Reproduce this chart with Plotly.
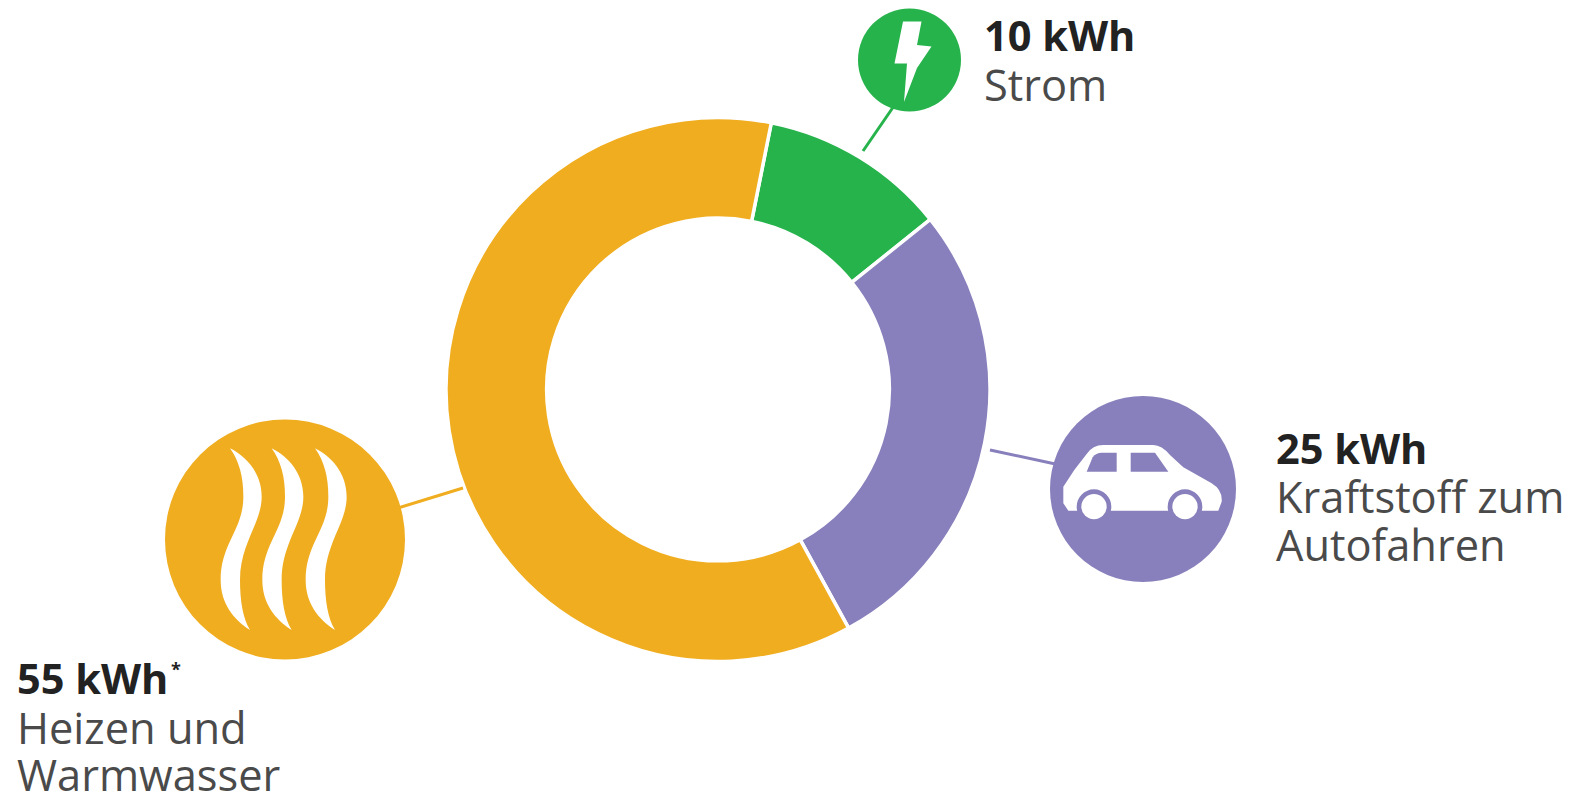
import plotly.graph_objects as go

W, H = 1582, 793

categories = ["Strom", "Kraftstoff zum Autofahren", "Heizen und Warmwasser"]
values_kwh = [10, 25, 55]
value_labels = ["10 kWh", "25 kWh", "55 kWh"]
colors = ["#26B34B", "#8880BC", "#F0AD1F"]

FONT = "Open Sans"
SIZE_BOLD = 41.5
SIZE_REG = 43.4
ARITY = {"M": 2, "L": 2, "Q": 4, "C": 6}


def px(x):
    return x / W


def py(y):
    return 1 - y / H


def path(cmds, ox=0.0, oy=0.0, s=1.0, dx=0.0):
    """cmds: list of (letter, [x, y, ...]) in crop pixels -> paper-space SVG path."""
    out = []
    for letter, pts in cmds:
        n = ARITY[letter]
        for j in range(0, len(pts), n):
            seg = pts[j:j + n]
            coords = []
            for i in range(0, n, 2):
                coords.append(f"{px(ox + (seg[i] + dx) * s):.5f},{py(oy + seg[i + 1] * s):.5f}")
            out.append(letter + " ".join(coords))
    out.append("Z")
    return " ".join(out)


def circle(cx, cy, r, fill):
    return dict(type="circle", xref="paper", yref="paper",
                x0=px(cx - r), x1=px(cx + r), y0=py(cy + r), y1=py(cy - r),
                fillcolor=fill, line_width=0, layer="above")


def leader(x0, y0, x1, y1, col):
    return dict(type="line", xref="paper", yref="paper",
                x0=px(x0), x1=px(x1), y0=py(y0), y1=py(y1),
                line=dict(color=col, width=3), layer="above")


def poly(cmds, fill, **kw):
    return dict(type="path", xref="paper", yref="paper", path=path(cmds, **kw),
                fillcolor=fill, line_width=0, layer="above")


GREEN, PURPLE, ORANGE = colors

shapes = [
    leader(896, 103, 863, 151, GREEN),
    leader(990, 450, 1060, 465, PURPLE),
    leader(385, 512, 463, 488, ORANGE),
    circle(909.5, 60, 51.5, GREEN),
    circle(1143, 489, 93, PURPLE),
    circle(285, 539.5, 120, ORANGE),
]

# lightning bolt
bolt = [("M", [903, 21.5]), ("L", [921.5, 21.5, 917, 45, 931.5, 46.5, 917, 68, 904, 102,
                                   907, 63.5, 894.5, 63.5])]
shapes.append(poly(bolt, "white"))

# car (crop coordinates, 3x zoom anchored at 970,380)
car = dict(ox=970, oy=380, s=1 / 3)
body = [("M", [280, 320]), ("Q", [310, 270, 350, 222]), ("Q", [368, 195, 400, 195]), ("L", [550, 195]),
        ("Q", [575, 195, 600, 225]), ("L", [640, 262, 725, 310]), ("Q", [758, 330, 755, 365]),
        ("L", [745, 392, 295, 392, 280, 370])]
win1 = [("M", [350, 275]), ("L", [368, 232]), ("Q", [378, 218, 395, 218]), ("L", [440, 218, 440, 275])]
win2 = [("M", [482, 218]), ("L", [555, 218, 595, 275, 482, 275])]
shapes.append(poly(body, "white", **car))
shapes.append(poly(win1, PURPLE, **car))
shapes.append(poly(win2, PURPLE, **car))
for wx in (372, 645):
    shapes.append(circle(970 + wx / 3, 380 + 380 / 3, 52 / 3, PURPLE))
    shapes.append(circle(970 + wx / 3, 380 + 380 / 3, 38 / 3, "white"))

# heat waves (crop coordinates, 3x zoom anchored at 150,410)
wave = [("M", [240, 115]), ("C", [290, 140, 335, 190, 335, 260]),
        ("C", [335, 340, 270, 400, 270, 510]), ("C", [270, 570, 278, 625, 300, 660]),
        ("C", [250, 628, 212, 580, 212, 510]), ("C", [212, 400, 280, 360, 280, 260]),
        ("C", [280, 200, 268, 155, 240, 115])]
for off in (0, 125, 255):
    shapes.append(poly(wave, "white", ox=150, oy=410, s=1 / 3, dx=off))


def label(x, base, text, bold, size=None):
    size = size or (SIZE_BOLD if bold else SIZE_REG)
    return dict(xref="paper", yref="paper", x=px(x), y=py(base - 0.36 * size),
                xanchor="left", yanchor="middle", showarrow=False, align="left",
                text=f"<b>{text}</b>" if bold else text,
                font=dict(family=FONT, size=size, color="#222222" if bold else "#4a4a4a"))


annotations = [
    label(982, 50, value_labels[0], True),
    label(982, 100, "Strom", False),
    label(1274, 463, value_labels[1], True),
    label(1274, 512, "Kraftstoff zum", False),
    label(1274, 560, "Autofahren", False),
    label(15, 693, value_labels[2], True),
    label(169, 675, "*", True, size=18),
    label(15, 743, "Heizen und", False),
    label(15, 790, "Warmwasser", False),
]

fig = go.Figure(go.Pie(
    labels=categories,
    values=values_kwh,
    hole=0.63,
    sort=False,
    direction="clockwise",
    rotation=11.3,
    marker=dict(colors=colors, line=dict(color="white", width=3.5)),
    textinfo="none",
    hoverinfo="label+value",
    showlegend=False,
    domain=dict(x=[446 / W, 990 / W], y=[1 - 661.5 / H, 1 - 117.5 / H]),
))
fig.update_layout(
    width=W, height=H,
    margin=dict(l=0, r=0, t=0, b=0),
    paper_bgcolor="white", plot_bgcolor="white",
    showlegend=False,
    shapes=shapes,
    annotations=annotations,
)
fig.write_html(
    "out.html",
    config=dict(displayModeBar=False),
    post_script="document.body.style.margin='0';document.body.style.overflow='hidden';",
)
